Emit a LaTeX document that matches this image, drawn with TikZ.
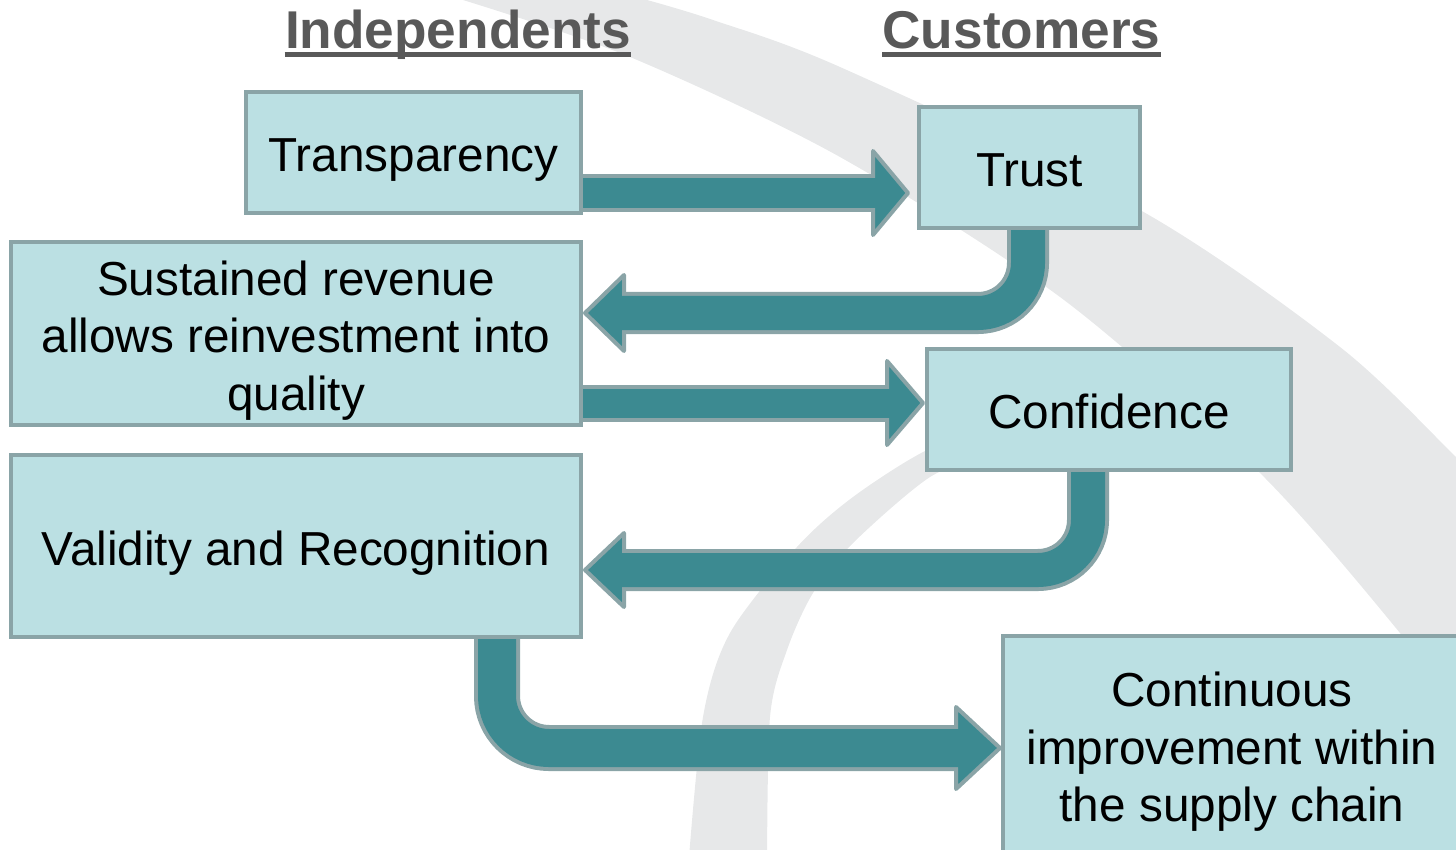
\documentclass[tikz,border=0pt]{standalone}
\usepackage{fontspec}
\setmainfont{Liberation Sans}
\usetikzlibrary{calc}

\pgfdeclarelayer{swoosh}
\pgfdeclarelayer{arrows}
\pgfsetlayers{swoosh,arrows,main}

\definecolor{boxfill}{HTML}{BBE0E3}
\definecolor{boxline}{HTML}{8AA4A7}
\definecolor{arrowfill}{HTML}{3C8A91}
\definecolor{swooshgray}{HTML}{E7E8E9}
\definecolor{headgray}{HTML}{595959}

% fixed line height/depth so every label sits at the same level in its box
\newcommand{\topstrut}{\rule{0pt}{25pt}}
\newcommand{\botstrut}{\rule[-6pt]{0pt}{6pt}}

\tikzset{
  stepbox/.style={draw=boxline, fill=boxfill, line width=2pt, inner sep=0pt,
    align=center, text=black, font=\fontsize{23.85}{28.75}\selectfont},
  header/.style={font=\bfseries\fontsize{26.6}{32}\selectfont, text=headgray,
    inner sep=0pt, anchor=base},
  headline/.style={draw=headgray, line width=2.5pt},
  shaftedge/.style={draw=boxline, line width=#1},
  shaftcore/.style={draw=arrowfill, line width=#1},
  arrowhead/.style={fill=arrowfill, draw=boxline, line width=2pt, line join=round},
}

\begin{document}
\begin{tikzpicture}[x=0.5pt, y=-0.5pt]
\useasboundingbox (0,0) rectangle (1456,850);
\clip (0,0) rectangle (1456,850);

% column headings
\node[header] (hind) at (458,49) {Independents};
\node[header] (hcus) at (1021.5,49) {Customers};
\draw[headline] ($(hind.base west)+(0,6)$) -- ($(hind.base east)+(0,6)$);
\draw[headline] ($(hcus.base west)+(0,6)$) -- ($(hcus.base east)+(0,6)$);

% boxes
\node[stepbox, minimum width=167.5pt, minimum height=60.5pt] (trans) at (413.5,152.5)
  {\topstrut Transparency\botstrut};
\node[stepbox, minimum width=110.5pt, minimum height=60.5pt] (trust) at (1029.5,167.5)
  {\topstrut Trust\botstrut};
\node[stepbox, minimum width=285pt, minimum height=91.5pt] (sust) at (296,333.5)
  {\topstrut Sustained revenue\\allows reinvestment into\\quality\botstrut};
\node[stepbox, minimum width=182pt, minimum height=60.5pt] (conf) at (1109,409.5)
  {\topstrut Confidence\botstrut};
\node[stepbox, minimum width=285pt, minimum height=91pt] (valid) at (296,546)
  {\topstrut Validity and Recognition\botstrut};
\node[stepbox, minimum width=229pt, minimum height=109pt] (cont) at (1232,745)
  {\topstrut Continuous\\improvement within\\the supply chain\botstrut};

% background swoosh
\begin{pgfonlayer}{swoosh}
\fill[swooshgray]
  plot[smooth] coordinates {(647,0) (713,20) (840,67) (1140,210) (1340,347) (1456,457) (1500,500)}
  -- (1520,500) -- (1520,770) --
  plot[smooth] coordinates {(1500,765) (1400,633) (1260,473) (1064,300) (840,157) (630,57) (463,0)}
  -- cycle;
\fill[swooshgray]
  plot[smooth] coordinates {(688,870) (703,717) (730,633) (797,547) (853,497) (927,450) (1000,425)}
  -- plot[smooth] coordinates {(990,455) (930,477) (853,543) (813,593) (787,650) (770,717) (767,870)}
  -- cycle;
\end{pgfonlayer}

% block arrows
\begin{pgfonlayer}{arrows}
% Transparency -> Trust
\coordinate (a1s) at ($(trans.south east)+(0,-22)$);
\coordinate (a1t) at ($(a1s -| trust.west)+(-9,0)$);
\coordinate (a1b) at ($(a1t)+(-35,0)$);
\draw[shaftedge=19pt] (a1s) -- (a1b);
\filldraw[arrowhead] ($(a1t)+(-35,-42)$) -- (a1t) -- ($(a1t)+(-35,42)$) -- cycle;
\draw[shaftcore=15pt] (a1s) -- ($(a1b)+(3,0)$);

% Trust -> Sustained revenue
\coordinate (a2s) at ($(trust.south)+(-1.5,0)$);
\coordinate (a2t) at ($(sust.east)+(2,-20.5)$);
\coordinate (a2b) at ($(a2t)+(39,0)$);
\draw[shaftedge=21pt, rounded corners=25pt] (a2s) -- (a2s |- a2t) -- (a2b);
\filldraw[arrowhead] ($(a2t)+(39,-38)$) -- (a2t) -- ($(a2t)+(39,38)$) -- cycle;
\draw[shaftcore=17pt, rounded corners=25pt] (a2s) -- (a2s |- a2t) -- ($(a2b)+(-3,0)$);

% Sustained revenue -> Confidence
\coordinate (a3s) at ($(sust.east)+(0,69.5)$);
\coordinate (a3t) at ($(a3s -| conf.west)+(-2,0)$);
\coordinate (a3b) at ($(a3t)+(-36,0)$);
\draw[shaftedge=18.5pt] (a3s) -- (a3b);
\filldraw[arrowhead] ($(a3t)+(-36,-42)$) -- (a3t) -- ($(a3t)+(-36,42)$) -- cycle;
\draw[shaftcore=14.5pt] (a3s) -- ($(a3b)+(3,0)$);

% Confidence -> Validity and Recognition
\coordinate (a4s) at ($(conf.south)+(-21,0)$);
\coordinate (a4t) at ($(valid.east)+(2,24)$);
\coordinate (a4b) at ($(a4t)+(39,0)$);
\draw[shaftedge=21pt, rounded corners=25pt] (a4s) -- (a4s |- a4t) -- (a4b);
\filldraw[arrowhead] ($(a4t)+(39,-37)$) -- (a4t) -- ($(a4t)+(39,37)$) -- cycle;
\draw[shaftcore=17pt, rounded corners=25pt] (a4s) -- (a4s |- a4t) -- ($(a4b)+(-3,0)$);

% Validity and Recognition -> Continuous improvement
\coordinate (a5s) at ($(valid.south)+(201,0)$);
\coordinate (a5t) at ($(cont.west)+(-1,3)$);
\coordinate (a5b) at ($(a5t)+(-44,0)$);
\draw[shaftedge=23pt, rounded corners=26pt] (a5s) -- (a5s |- a5t) -- (a5b);
\filldraw[arrowhead] ($(a5t)+(-44,-41)$) -- (a5t) -- ($(a5t)+(-44,41)$) -- cycle;
\draw[shaftcore=19pt, rounded corners=26pt] (a5s) -- (a5s |- a5t) -- ($(a5b)+(3,0)$);
\end{pgfonlayer}
\end{tikzpicture}
\end{document}
